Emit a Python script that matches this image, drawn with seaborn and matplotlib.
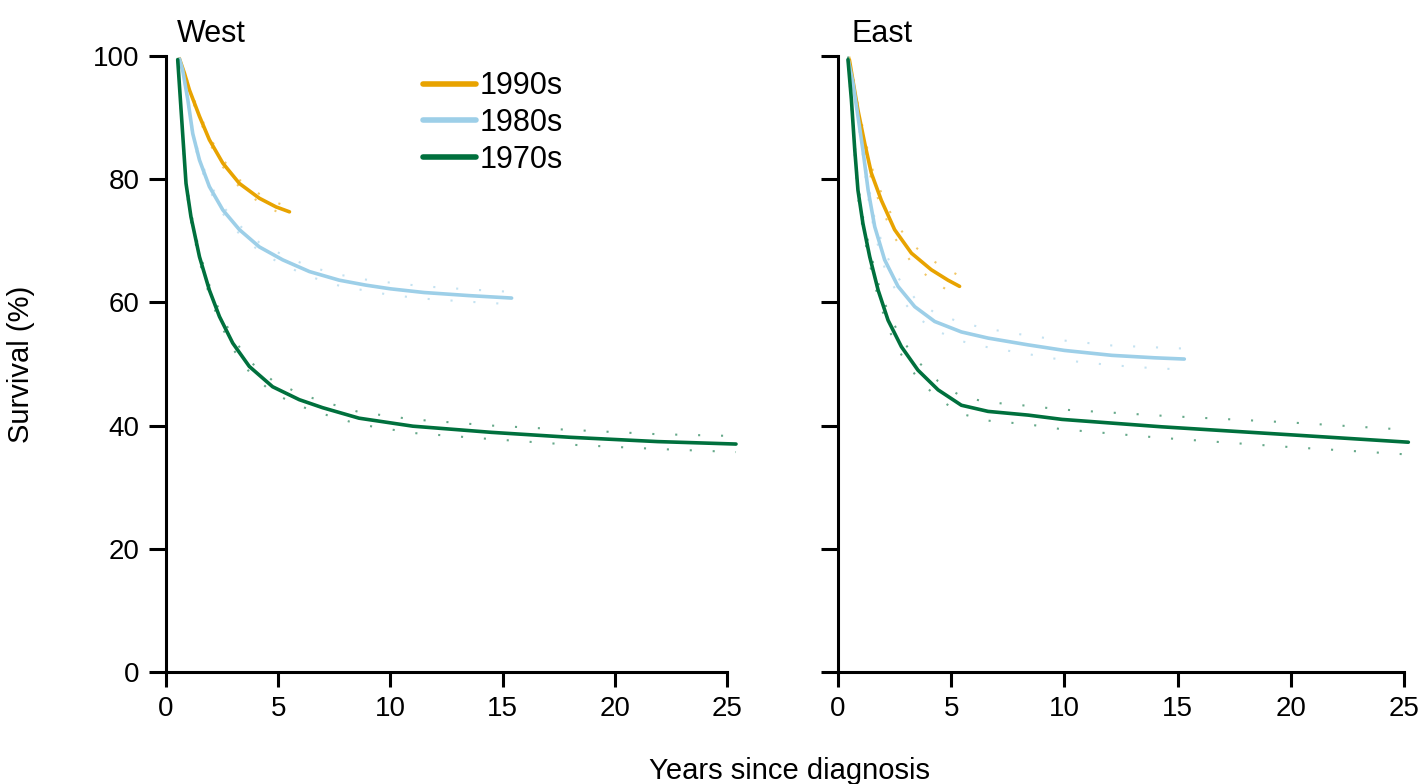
import pandas as pd
import matplotlib
matplotlib.use("Agg")
import matplotlib.pyplot as plt
import seaborn as sns

# Survival curves (years since diagnosis, survival %)
decades = ["1990s", "1980s", "1970s"]
colors = {"1990s": "#E8A300", "1980s": "#9DCFE8", "1970s": "#00703D"}

west_1990s_x = [0.6, 0.82, 1.04, 1.49, 1.93, 2.53, 3.27, 4.16, 4.9, 5.5]
west_1990s_y = [99.5, 97.2, 94.5, 90.2, 86.4, 82.6, 79.3, 76.9, 75.5, 74.7]
west_1990s_ci = [0.3, 0.3, 0.4, 0.5, 0.5, 0.6, 0.6, 0.7, 0.7, 0.8]

west_1980s_x = [0.6, 0.74, 0.97, 1.19, 1.49, 1.93, 2.53, 3.27, 4.16, 5.2, 6.39, 7.72,
                8.9, 10, 11.5, 13.5, 15.4]
west_1980s_y = [99.5, 97.7, 92.9, 87.4, 83.1, 78.8, 75, 71.8, 69, 66.9, 65, 63.6,
                62.8, 62.2, 61.6, 61.1, 60.7]
west_1980s_ci = [0.3, 0.3, 0.4, 0.5, 0.5, 0.6, 0.6, 0.7, 0.7, 0.8, 0.8, 0.9,
                 0.9, 1.0, 1.0, 1.0, 1.0]

west_1970s_x = [0.52, 0.74, 0.89, 1.11, 1.49, 1.93, 2.38, 2.97, 3.71, 4.75, 5.94, 6.98,
                8.6, 11, 14.5, 18, 21.9, 25.4]
west_1970s_y = [99.4, 87.4, 79.3, 73.9, 67.4, 62, 57.7, 53.4, 49.6, 46.3, 44.2, 42.9,
                41.2, 39.9, 38.9, 38.1, 37.4, 37]
west_1970s_ci = [0.3, 0.5, 0.6, 0.7, 0.8, 0.8, 0.9, 0.9, 0.9, 1.0, 1.0, 1.0,
                 1.0, 1.1, 1.1, 1.2, 1.2, 1.3]

east_1990s_x = [0.5, 0.88, 1.18, 1.47, 1.91, 2.5, 3.24, 4.12, 4.86, 5.37]
east_1990s_y = [99.4, 91.2, 85.8, 81, 76.6, 71.8, 68, 65.3, 63.6, 62.6]
east_1990s_ci = [0.5, 0.8, 1.0, 1.1, 1.2, 1.3, 1.5, 1.6, 1.7, 1.7]

east_1980s_x = [0.45, 0.66, 0.88, 1.1, 1.33, 1.62, 2.06, 2.65, 3.39, 4.27, 5.45, 6.63,
                8.4, 10, 12.1, 14, 15.3]
east_1980s_y = [99.4, 95.6, 90.2, 84.7, 78.2, 72.3, 66.9, 62.6, 59.3, 56.9, 55.2, 54.2,
                53.1, 52.2, 51.4, 51, 50.8]
east_1980s_ci = [0.5, 0.7, 0.8, 1.0, 1.1, 1.2, 1.3, 1.4, 1.4, 1.4, 1.5, 1.5,
                 1.5, 1.6, 1.6, 1.7, 1.7]

east_1970s_x = [0.44, 0.59, 0.74, 0.88, 1.1, 1.4, 1.77, 2.21, 2.8, 3.53, 4.42, 5.45,
                6.63, 8.4, 9.9, 14.3, 20, 25.2]
east_1970s_y = [99.4, 92.9, 84.7, 78.2, 72.8, 67.4, 62, 57.1, 52.8, 49, 45.8, 43.3,
                42.3, 41.7, 41, 39.8, 38.5, 37.3]
east_1970s_ci = [0.5, 0.7, 0.9, 1.0, 1.1, 1.2, 1.2, 1.3, 1.3, 1.4, 1.4, 1.4,
                 1.5, 1.5, 1.6, 1.8, 2.0, 2.0]

panels = {
    "West": {
        "1990s": (west_1990s_x, west_1990s_y, west_1990s_ci),
        "1980s": (west_1980s_x, west_1980s_y, west_1980s_ci),
        "1970s": (west_1970s_x, west_1970s_y, west_1970s_ci),
    },
    "East": {
        "1990s": (east_1990s_x, east_1990s_y, east_1990s_ci),
        "1980s": (east_1980s_x, east_1980s_y, east_1980s_ci),
        "1970s": (east_1970s_x, east_1970s_y, east_1970s_ci),
    },
}

sns.set_style("ticks", {"axes.edgecolor": "black", "text.color": "black",
                        "xtick.color": "black", "ytick.color": "black",
                        "axes.labelcolor": "black"})
plt.rcParams["font.family"] = ["Liberation Sans", "DejaVu Sans"]

fig = plt.figure(figsize=(14.18, 7.84), dpi=100)
ax_w = fig.add_axes([0.1171, 0.1429, 0.3956, 0.7857])
ax_e = fig.add_axes([0.5910, 0.1429, 0.3990, 0.7857])

for ax, region in [(ax_w, "West"), (ax_e, "East")]:
    rows = []
    for dec in decades:
        xs, ys, ci = panels[region][dec]
        for x, y, c in zip(xs, ys, ci):
            rows.append({"years": x, "survival": y, "lo": y - c, "hi": y + c, "decade": dec})
    df = pd.DataFrame(rows)

    # dotted confidence limits first, then the curves on top
    for dec in decades:
        sub = df[df["decade"] == dec]
        for col in ["hi", "lo"]:
            ax.plot(sub["years"], sub[col], color=colors[dec], lw=1.5,
                    linestyle=(0, (1, 10)), alpha=0.6, clip_on=False)

    sns.lineplot(data=df, x="years", y="survival", hue="decade", hue_order=decades,
                 palette=colors, linewidth=2.6, errorbar=None, ax=ax,
                 legend=(region == "West"))
    for line in ax.lines:
        line.set_clip_on(False)

    ax.set_xlim(0, 25)
    ax.set_ylim(0, 100)
    ax.set_xticks(range(0, 26, 5))
    ax.set_yticks(range(0, 101, 20))
    ax.set_xlabel("")
    ax.set_ylabel("")
    for s in ["top", "right"]:
        ax.spines[s].set_visible(False)
    for s in ["left", "bottom"]:
        ax.spines[s].set_linewidth(2.2)
        ax.spines[s].set_color("black")
    ax.tick_params(axis="y", length=12, width=2.2, pad=7, labelsize=20, colors="black")
    ax.tick_params(axis="x", length=11, width=2.2, pad=6, labelsize=20, colors="black")
    ax.text(0.02 if region == "West" else 0.023, 1.022, region, transform=ax.transAxes,
            fontsize=22, va="baseline", ha="left", color="black")

ax_e.tick_params(axis="y", labelleft=False)

leg = ax_w.legend(loc="upper left", bbox_to_anchor=(0.458, 0.975), frameon=False,
                  fontsize=22, handlelength=1.75, handletextpad=0.1,
                  borderpad=0, borderaxespad=0, labelspacing=0.22)
for h in leg.get_lines():
    h.set_linewidth(4)
for t in leg.get_texts():
    t.set_color("black")

ax_w.set_ylabel("Survival (%)", fontsize=21, labelpad=42, color="black")
fig.text(0.557, 0.006, "Years since diagnosis", fontsize=21, ha="center",
         va="baseline", color="black")

fig.savefig("out.png", dpi=100)
